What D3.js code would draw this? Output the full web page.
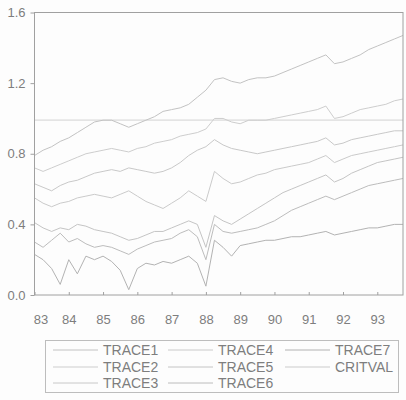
<!DOCTYPE html>
<html lang="en">
<head>
    <meta charset="UTF-8">
    <title>Trace statistics</title>
    <style>
        body { margin: 0; background: #fdfdfd; }
        svg text { font-family: "Liberation Sans", Arial, sans-serif; }
    </style>
</head>
<body>
    <div id="chart"></div>
    <script src="https://d3js.org/d3.v7.min.js"></script>
    <script>
        // quarterly observations, 1983Q1 .. 1993Q4
        const dates = d3.range(44).map(i => 1983 + i * 0.25)

        const trace1 = [0.79,0.82,0.84,0.87, 0.89,0.92,0.95,0.98, 0.99,0.99,0.97,0.95, 0.97,0.99,1.01,1.04,
                        1.05,1.06,1.08,1.12, 1.16,1.22,1.23,1.21, 1.20,1.22,1.23,1.23, 1.24,1.26,1.28,1.30,
                        1.32,1.34,1.36,1.31, 1.32,1.34,1.36,1.39, 1.41,1.43,1.45,1.47]
        const trace2 = [0.72,0.70,0.72,0.74, 0.76,0.78,0.80,0.81, 0.82,0.83,0.82,0.81, 0.83,0.84,0.86,0.87,
                        0.88,0.90,0.91,0.92, 0.94,1.00,1.00,0.98, 0.97,0.99,0.99,0.99, 1.00,1.01,1.02,1.03,
                        1.04,1.05,1.07,1.00, 1.01,1.03,1.05,1.06, 1.07,1.08,1.10,1.11]
        const trace3 = [0.63,0.61,0.59,0.62, 0.64,0.65,0.67,0.69, 0.70,0.71,0.70,0.72, 0.71,0.70,0.69,0.70,
                        0.72,0.75,0.79,0.82, 0.84,0.88,0.85,0.83, 0.82,0.81,0.80,0.81, 0.82,0.83,0.84,0.85,
                        0.86,0.87,0.89,0.85, 0.86,0.88,0.89,0.90, 0.91,0.92,0.93,0.93]
        const trace4 = [0.55,0.52,0.50,0.52, 0.53,0.55,0.56,0.57, 0.56,0.55,0.57,0.59, 0.56,0.53,0.51,0.49,
                        0.52,0.55,0.59,0.56, 0.53,0.70,0.66,0.63, 0.64,0.66,0.68,0.69, 0.71,0.72,0.73,0.74,
                        0.75,0.77,0.79,0.75, 0.77,0.79,0.80,0.81, 0.82,0.83,0.84,0.85]
        const trace5 = [0.41,0.38,0.36,0.38, 0.37,0.40,0.39,0.37, 0.36,0.35,0.33,0.31, 0.32,0.34,0.36,0.36,
                        0.38,0.40,0.42,0.40, 0.27,0.45,0.42,0.40, 0.43,0.46,0.49,0.52, 0.55,0.58,0.60,0.62,
                        0.64,0.66,0.68,0.64, 0.66,0.69,0.71,0.73, 0.75,0.76,0.77,0.78]
        const trace6 = [0.30,0.27,0.31,0.35, 0.30,0.32,0.29,0.27, 0.28,0.27,0.25,0.23, 0.26,0.28,0.30,0.31,
                        0.32,0.35,0.37,0.33, 0.20,0.40,0.36,0.35, 0.36,0.37,0.38,0.40, 0.42,0.45,0.48,0.50,
                        0.52,0.54,0.56,0.54, 0.56,0.58,0.60,0.62, 0.63,0.64,0.65,0.66]
        const trace7 = [0.23,0.20,0.15,0.06, 0.20,0.12,0.22,0.20, 0.22,0.19,0.14,0.03, 0.15,0.18,0.17,0.19,
                        0.18,0.20,0.22,0.18, 0.05,0.31,0.27,0.22, 0.28,0.29,0.30,0.31, 0.31,0.32,0.33,0.33,
                        0.34,0.35,0.36,0.34, 0.35,0.36,0.37,0.38, 0.38,0.39,0.40,0.40]
        const critval = dates.map(() => 0.99)

        const seriesNames = ["TRACE1","TRACE2","TRACE3","TRACE4","TRACE5","TRACE6","TRACE7","CRITVAL"]
        const seriesValues = [trace1,trace2,trace3,trace4,trace5,trace6,trace7,critval]
        const seriesColors = ["#c2c2c2","#cdcdcd","#c8c8c8","#cacaca","#c4c4c4","#bcbcbc","#b2b2b2","#e4e4e4"]

        const yTicks = [0, 0.4, 0.8, 1.2, 1.6]
        const xTicks = [1983,1984,1985,1986,1987,1988,1989,1990,1991,1992,1993]

        const [width, height] = [406, 400]
        const svg = d3.select("#chart").append("svg")
            .attr("width", width)
            .attr("height", height)

        const x = d3.scaleLinear().domain([1983, 1993.75]).range([34.5, 403])
        const y = d3.scaleLinear().domain([0, 1.6]).range([295, 12.5])

        svg.append("clipPath").attr("id", "plot")
            .append("rect")
            .attr("x", x.range()[0]).attr("y", y.range()[1])
            .attr("width", x.range()[1] - x.range()[0])
            .attr("height", y.range()[0] - y.range()[1])

        const line = d3.line()
            .x((d, i) => x(dates[i]))
            .y(d => y(d))

        // series, critval first so it sits underneath
        const order = [7,0,1,2,3,4,5,6]
        svg.append("g").attr("clip-path", "url(#plot)")
            .selectAll("path")
            .data(order)
            .join("path")
            .attr("d", k => line(seriesValues[k]))
            .attr("fill", "none")
            .attr("stroke", k => seriesColors[k])
            .attr("stroke-width", k => k === 7 ? 1.8 : 1)

        // frame
        svg.append("rect")
            .attr("x", x.range()[0]).attr("y", y.range()[1])
            .attr("width", x.range()[1] - x.range()[0])
            .attr("height", y.range()[0] - y.range()[1])
            .attr("fill", "none")
            .attr("stroke", "#a0a0a0")

        const yAxis = svg.append("g")
            .attr("transform", `translate(${x.range()[0]},0)`)
            .call(d3.axisLeft(y).tickValues(yTicks).tickFormat(d3.format(".1f")).tickSize(4).tickPadding(5))
        yAxis.select(".domain").remove()

        const xAxis = svg.append("g")
            .attr("transform", `translate(0,${y.range()[0]})`)
            .call(d3.axisBottom(x).tickValues(xTicks).tickFormat(d => String(d).slice(2)).tickSize(-3).tickPadding(20))
        xAxis.select(".domain").remove()
        xAxis.select(".tick text").attr("dx", 6)

        svg.selectAll(".tick line").attr("stroke", "#a0a0a0")
        svg.selectAll(".tick text")
            .attr("fill", "#7e7e7e")
            .style("font-size", "13px")

        // legend
        const legend = svg.append("g")
        legend.append("rect")
            .attr("x", 45.5).attr("y", 340.5)
            .attr("width", 353).attr("height", 52)
            .attr("fill", "none")
            .attr("stroke", "#bdbdbd")

        const colX = [53, 168, 285]
        const rowY = [350, 367, 383]
        seriesNames.forEach((name, k) => {
            const c = Math.floor(k / 3), r = k % 3
            legend.append("line")
                .attr("x1", colX[c]).attr("x2", colX[c] + 45)
                .attr("y1", rowY[r]).attr("y2", rowY[r])
                .attr("stroke", seriesColors[k])
                .attr("stroke-width", k === 7 ? 1.8 : 1)
            legend.append("text")
                .attr("x", colX[c] + 50)
                .attr("y", rowY[r])
                .attr("dy", "0.35em")
                .attr("fill", "#7e7e7e")
                .style("font-size", "14px")
                .text(name)
        })
    </script>
</body>
</html>
